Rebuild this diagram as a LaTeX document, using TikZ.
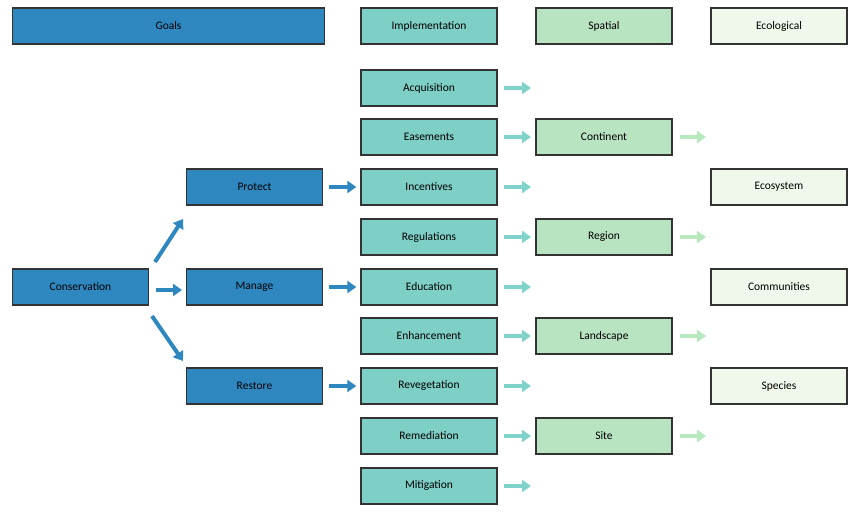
\documentclass[tikz,border=0pt]{standalone}
\usepackage{fontspec}
\setmainfont{Carlito}
\usetikzlibrary{arrows.meta}
\definecolor{goal}{HTML}{2E88BF}
\definecolor{impl}{HTML}{7ECFC6}
\definecolor{spat}{HTML}{B9E4C1}
\definecolor{eco}{HTML}{F0F8EC}
\definecolor{arrB}{HTML}{2E88BF}
\definecolor{arrT}{HTML}{80D3CB}
\definecolor{arrG}{HTML}{B8E8BE}
\begin{document}
\begin{tikzpicture}[x=1pt,y=-1pt,
 box/.style={draw=black!80,line width=1.4pt,minimum width=136pt,minimum height=36pt,font=\fontsize{11.5}{13}\selectfont,inner sep=0pt},
 g/.style={box,fill=goal},
 i/.style={box,fill=impl},
 s/.style={box,fill=spat},
 e/.style={box,fill=eco},
 arr/.style={line width=4pt,-{Triangle[length=9pt,width=12pt]}},
 ]
\useasboundingbox (0,0) rectangle (865,528);
\fill[white] (0,0) rectangle (865,528);
\node[g,minimum width=312pt] (goals) at (168.5,26) {Goals};
\node[i] (implh) at (429,26) {Implementation};
\node[s] (spath) at (604,26) {Spatial};
\node[e] (ecoh) at (779,26) {Ecological};
\foreach \n/\t/\y in {acq/Acquisition/88,eas/Easements/137,inc/Incentives/187,reg/Regulations/237,edu/Education/287,enh/Enhancement/336,rev/Revegetation/386,rem/Remediation/436,mit/Mitigation/486}{
 \node[i] (\n) at (429,\y) {\t};
 \coordinate (\n-e) at (531,\y);
 \draw[arr,arrT] (\n.east) ++(6,0) -- (\n-e);
}
\foreach \n/\t/\y in {con/Continent/137,regn/Region/237,lan/Landscape/336,sit/Site/436}{
 \node[s] (\n) at (604,\y) {\t};
 \coordinate (\n-e) at (706,\y);
 \draw[arr,arrG] (\n.east) ++(7,0) -- (\n-e);
}
\node[e] (ecos) at (779,187) {Ecosystem};
\node[e] (comm) at (779,287) {Communities};
\node[e] (spec) at (779,386) {Species};
\node[g] (pro) at (254.5,187) {Protect};
\node[g] (man) at (254.5,287) {Manage};
\node[g] (res) at (254.5,386) {Restore};
\node[g] (cons) at (80.5,287) {Conservation};
\draw[arr,arrB] ([xshift=6pt]pro.east) -- ([xshift=-4pt]inc.west);
\draw[arr,arrB] ([xshift=6pt]man.east) -- ([xshift=-4pt]edu.west);
\draw[arr,arrB] ([xshift=6pt]res.east) -- ([xshift=-4pt]rev.west);
\draw[arr,arrB] (155,262) -- (183,219);
\draw[arr,arrB] (156,290) -- (182,290);
\draw[arr,arrB] (152,316) -- (183,361);
\end{tikzpicture}
\end{document}
